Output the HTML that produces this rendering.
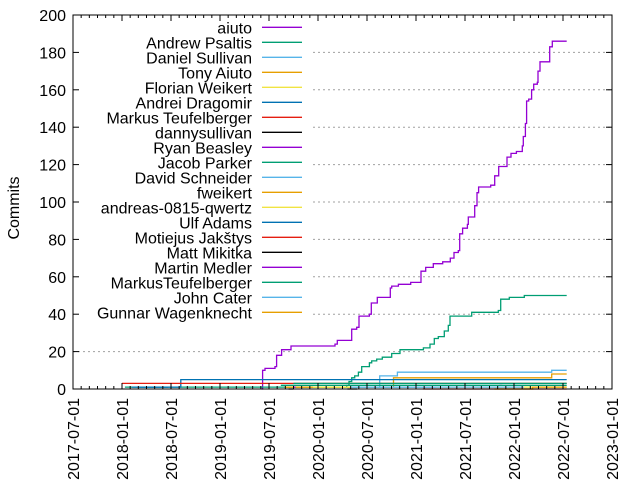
<!DOCTYPE html>
<html><head><meta charset="utf-8"><style>
body{margin:0;background:#fff;}
svg text{font-family:"Liberation Sans","DejaVu Sans",sans-serif;font-size:16px;fill:#000;}
</style></head><body>
<svg id="chart" width="640" height="480" xmlns="http://www.w3.org/2000/svg">
<rect x="0" y="0" width="640" height="480" fill="#fff"/>
<g id="grid"></g><g id="legendbg"></g><g id="series"></g><g id="axes"></g><g id="legend"></g>
<text transform="translate(19,208) rotate(-90)" text-anchor="middle">Commits</text>
</svg>
<script>
const names=["aiuto","Andrew Psaltis","Daniel Sullivan","Tony Aiuto","Florian Weikert","Andrei Dragomir","Markus Teufelberger","dannysullivan","Ryan Beasley","Jacob Parker","David Schneider","fweikert","andreas-0815-qwertz","Ulf Adams","Motiejus Jakštys","Matt Mikitka","Martin Medler","MarkusTeufelberger","John Cater","Gunnar Wagenknecht"];
const colors=["#9400d3","#009e73","#56b4e9","#e69f00","#f0e442","#0072b2","#e51e10","#000000"];
const yTicks=[0,20,40,60,80,100,120,140,160,180,200];
const xTickLabels=["2017-07-01","2018-01-01","2018-07-01","2019-01-01","2019-07-01","2020-01-01","2020-07-01","2021-01-01","2021-07-01","2022-01-01","2022-07-01","2023-01-01"];
const xTickYears=[2017.5,2018,2018.5,2019,2019.5,2020,2020.5,2021,2021.5,2022,2022.5,2023];
const aiutoYears=[2019.425,2019.435,2019.459,2019.561,2019.578,2019.629,2019.724,2020.173,2020.197,2020.344,2020.395,2020.418,2020.524,2020.544,2020.605,2020.738,2020.752,2020.820,2020.946,2021.051,2021.099,2021.177,2021.272,2021.350,2021.388,2021.432,2021.446,2021.476,2021.524,2021.534,2021.599,2021.622,2021.639,2021.762,2021.803,2021.844,2021.929,2021.969,2022.024,2022.085,2022.095,2022.116,2022.129,2022.150,2022.180,2022.201,2022.238,2022.245,2022.265,2022.364,2022.391,2022.538];
const aiutoValues=[0,10,11,12,18,21,23,24,26,32,33,39,40,46,49,54,55,56,57,63,65,67,68,70,73,74,83,86,88,92,98,105,108,109,114,119,124,126,127,130,135,142,154,155,160,163,164,170,175,183,186,186];
const andrewYears=[2018.03,2019.6,2020.293,2020.316,2020.344,2020.374,2020.412,2020.446,2020.524,2020.548,2020.599,2020.656,2020.752,2020.837,2021.075,2021.143,2021.187,2021.228,2021.289,2021.330,2021.347,2021.568,2021.840,2021.864,2021.952,2022.105,2022.538];
const andrewValues=[1,1,2,4,6,7,9,12,14,15,16,17,19,21,22,24,27,28,31,34,39,41,42,48,49,50,50];
const danielYears=[2020.3,2020.63,2020.81,2022.385,2022.538];
const danielValues=[1,7,9,10,10];
const tonyYears=[2019.66,2020.77,2022.385,2022.538];
const tonyValues=[1,6,8,8];
const florianYears=[2019.93,2022.538];
const florianValues=[1,1];
const andreiYears=[2018.1,2018.6,2022.538];
const andreiValues=[1,5,5];
const markusYears=[2018.0,2022.538];
const markusValues=[3,3];
const dannyYears=[2020.3,2020.4];
const dannyValues=[0,0];
const ryanYears=[2021.85,2021.88];
const ryanValues=[2,2];
const jacobYears=[2019.62,2022.538];
const jacobValues=[2,2];
const davidYears=[2020.33,2021.2];
const davidValues=[1,1];
const fweikertYears=[2019.66,2019.95];
const fweikertValues=[1,1];
const andreasYears=[2021.8,2022.2];
const andreasValues=[0,0];
const ulfYears=[2018.17,2018.47];
const ulfValues=[1,1];
const motiejusYears=[2021.07,2022.538];
const motiejusValues=[0,0];
const mattYears=[2019.7,2019.75];
const mattValues=[0,0];
const martinYears=[2019.75,2019.77];
const martinValues=[1,1];
const markusTYears=[2019.75,2022.538];
const markusTValues=[3,3];
const johnYears=[2020.35,2022.1];
const johnValues=[1,1];
const gunnarYears=[2021.8,2022.19,2022.538];
const gunnarValues=[0,1,1];
const seriesYears=[aiutoYears,andrewYears,danielYears,tonyYears,florianYears,andreiYears,markusYears,dannyYears,ryanYears,jacobYears,davidYears,fweikertYears,andreasYears,ulfYears,motiejusYears,mattYears,martinYears,markusTYears,johnYears,gunnarYears];
const seriesValues=[aiutoValues,andrewValues,danielValues,tonyValues,florianValues,andreiValues,markusValues,dannyValues,ryanValues,jacobValues,davidValues,fweikertValues,andreasValues,ulfValues,motiejusValues,mattValues,martinValues,markusTValues,johnValues,gunnarValues];

const L=73,R=612,T=15,B=389;
function xs(yr){return L+(yr-2017.5)/5.5*(R-L);}
function ys(v){return B-v/200*(B-T);}
const NS="http://www.w3.org/2000/svg";
function mk(tag,parent,attrs){const e=document.createElementNS(NS,tag);for(const k in attrs)e.setAttribute(k,attrs[k]);parent.appendChild(e);return e;}
const grid=document.getElementById('grid'),axes=document.getElementById('axes'),ser=document.getElementById('series'),leg=document.getElementById('legend');
yTicks.forEach(v=>{
  if(v===0||v===200)return;
  const x0=(v>=40)?313:L;
  const g=mk('line',grid,{x1:x0,x2:R,y1:ys(v),y2:ys(v),stroke:'#a0a0a0','stroke-dasharray':'2,3','stroke-width':1});
  
  
});
seriesYears.forEach((yrs,i)=>{
  const vals=seriesValues[i];
  let d='M'+xs(yrs[0]).toFixed(1)+','+ys(vals[0]).toFixed(1);
  for(let k=1;k<yrs.length;k++){d+=' H'+xs(yrs[k]).toFixed(1)+' V'+ys(vals[k]).toFixed(1);}
  const p=mk('path',ser,{d:d,fill:'none',stroke:colors[i%8],'stroke-width':1.3});
  
  
});
const fr=mk('rect',axes,{x:L,y:T,width:R-L,height:B-T,fill:'none',stroke:'#000','stroke-width':1});


yTicks.forEach(v=>{
  mk('line',axes,{x1:L,x2:L+6,y1:ys(v),y2:ys(v),stroke:'#000'});
  mk('line',axes,{x1:R,x2:R-6,y1:ys(v),y2:ys(v),stroke:'#000'});
  const t=mk('text',axes,{x:66,y:ys(v)+6,'text-anchor':'end'});
  t.textContent=v;
  
  
});
for(let m=0;m<=66;m++){
  const x=xs(2017.5+m/12);
  const len=(m%6===0)?6:3;
  mk('line',axes,{x1:x,x2:x,y1:B,y2:B-len,stroke:'#000'});
  mk('line',axes,{x1:x,x2:x,y1:T,y2:T+len,stroke:'#000'});
}
xTickYears.forEach((yr,i)=>{
  const x=xs(yr)+6;
  const t=mk('text',axes,{transform:'translate('+x+',398) rotate(-90)','text-anchor':'end'});
  t.textContent=xTickLabels[i];
  
  
});
names.forEach((n,i)=>{
  const y=27.3+15*i;
  const t=mk('text',leg,{x:252,y:y+6,'text-anchor':'end'});
  t.textContent=n;
  
  
  const l=mk('line',leg,{x1:262,x2:302,y1:y,y2:y,stroke:colors[i%8],'stroke-width':1.3});
  
  
});
</script>
</body></html>
